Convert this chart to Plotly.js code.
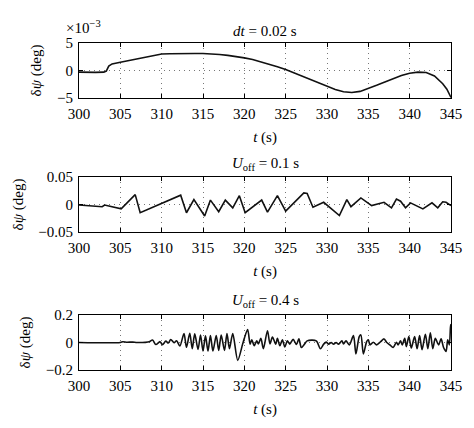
<!DOCTYPE html>
<html>
<head>
<meta charset="utf-8">
<script src="https://cdn.plot.ly/plotly-3.0.1.min.js"></script>
<style>html,body{margin:0;padding:0;background:#fff;}#chart{width:474px;height:428px;}</style>
</head>
<body>
<div id="chart"></div>
<script>
// ---- data ----
const panelTitles = ['<i>dt</i> = 0.02 s', '<i>U</i><sub>off</sub> = 0.1 s', '<i>U</i><sub>off</sub> = 0.4 s'];
const xTicks = [300, 305, 310, 315, 320, 325, 330, 335, 340, 345];

// top panel (deg)
const tTop = [300,301,302,303,303.3,303.6,304,305,306,307,308,309,310,311,312,313,314,315,316,317,318,319,320,321,322,323,324,325,326,327,328,329,330,331,332,333,334,335,336,337,338,339,340,341,342,343,344,344.5,345];
const psiTop = [-0.0003,-0.00035,-0.00035,-0.0003,-0.0001,0.0008,0.0012,0.0015,0.0018,0.0021,0.0024,0.0027,0.0030,0.00305,0.0031,0.0031,0.0031,0.0031,0.00305,0.0029,0.00275,0.00255,0.0023,0.0020,0.0016,0.00115,0.0007,0.0002,-0.0004,-0.0010,-0.00165,-0.0023,-0.0029,-0.00345,-0.00385,-0.0040,-0.0038,-0.0033,-0.0027,-0.0021,-0.0015,-0.0009,-0.0005,-0.0003,-0.00035,-0.0010,-0.0024,-0.0034,-0.0049];
const topTickVals = [-0.005, 0, 0.005];
const topTickText = ['\u22125', '0', '5'];

// middle panel (deg)
const tMid = [300,301,302,302.8,303.1,303.6,304.3,305.1,306.8,307.4,312.3,313.0,313.9,315.2,315.9,316.9,317.7,318.6,319.4,320.1,322.1,322.8,324.0,325.0,327.2,327.6,328.3,329.6,331.5,332.4,332.9,334.1,335.4,336.9,337.8,338.4,338.9,339.5,340.1,341.6,342.7,343.4,344.0,344.4,345];
const psiMid = [-0.001,-0.002,-0.003,-0.004,-0.001,-0.003,-0.005,-0.008,0.018,-0.015,0.017,-0.015,0.009,-0.021,0.008,-0.013,0.008,-0.006,0.016,-0.015,0.008,-0.014,0.016,-0.012,0.021,0.020,-0.005,0.004,-0.020,0.009,-0.004,0.012,-0.002,0.004,-0.006,0.010,0.006,-0.006,0.003,-0.008,0.003,-0.006,0.005,0.004,-0.002];

// bottom panel (deg)
const tBot = [300,305,305.3,305.8,306.5,307,308,308.5,308.9,309.3,309.8,310.1,310.5,310.8,311.1,311.5,311.8,312.2,312.7,313.0,313.4,313.7,314.0,314.4,314.7,315.0,315.3,315.6,315.9,316.2,316.6,316.9,317.2,317.6,317.9,318.2,318.6,319.2,319.8,320.0,320.4,320.7,320.9,321.2,321.5,321.7,322.0,322.3,322.8,323.1,323.4,323.8,324.0,324.3,324.6,324.9,325.2,325.5,325.9,326.3,326.6,326.9,327.3,327.6,328.7,329.2,329.6,329.9,330.2,330.5,330.8,331.1,331.4,331.8,332.0,332.3,332.7,333.2,333.5,333.9,334.1,334.4,334.8,335.0,335.2,335.6,336.0,336.5,336.9,337.2,337.6,338.0,338.4,338.6,338.9,339.1,339.4,339.6,339.9,340.2,340.6,340.9,341.2,341.5,341.9,342.2,342.5,342.8,343.1,343.5,343.8,344.1,344.4,344.6,344.8,344.95,345];
const psiBot = [0,0,0.005,0.002,0.003,0,0.001,0.005,0.018,-0.015,0.006,-0.016,0.010,-0.004,0.022,-0.002,0.013,-0.026,0.065,-0.035,0.066,-0.045,0.063,-0.050,0.055,-0.062,0.048,-0.062,0.050,-0.062,0.050,-0.058,0.055,-0.058,0.065,-0.045,0.065,-0.130,-0.010,0.030,0.095,-0.012,0.020,-0.024,0.012,-0.010,0.030,-0.045,0.086,-0.010,0.040,-0.012,0.030,-0.024,0.020,-0.033,0.012,-0.012,0.024,-0.015,0.026,-0.036,-0.010,0.012,0.012,-0.045,-0.012,0.003,-0.012,0,-0.012,0,-0.012,0.012,-0.010,0.012,-0.017,0.050,-0.083,0.043,0.055,-0.083,0.007,0.020,-0.017,0.002,-0.017,0.007,0.026,0.002,-0.017,-0.036,0.002,-0.017,0.012,-0.017,0.030,-0.030,0.043,-0.040,0.043,-0.045,0.050,-0.052,0.060,-0.045,0.070,-0.045,0.030,-0.017,0.026,-0.036,-0.065,0.020,-0.017,0.130,0.100];

// ---- chart ----
const FONT = 'Liberation Serif, Times New Roman, serif';
const FS = 15;
const lineStyle = {color: '#111', width: 1.6};

const traces = [
  {x: tTop, y: psiTop, xaxis: 'x', yaxis: 'y', mode: 'lines', line: lineStyle, hoverinfo: 'skip'},
  {x: tMid, y: psiMid, xaxis: 'x2', yaxis: 'y2', mode: 'lines', line: lineStyle, hoverinfo: 'skip'},
  {x: tBot, y: psiBot, xaxis: 'x3', yaxis: 'y3', mode: 'lines', line: Object.assign({shape: 'spline', smoothing: 0.8}, lineStyle), hoverinfo: 'skip'}
];

function xAx(anchor) {
  return {
    domain: [79/474, 451/474], anchor: anchor, range: [300, 345],
    tickvals: xTicks, ticks: 'inside', ticklen: 4, tickcolor: '#000',
    ticklabelstandoff: 2,
    showline: true, mirror: 'ticks', linecolor: '#000', linewidth: 1,
    showgrid: true, gridcolor: '#777', griddash: '1px,4px', gridwidth: 1, zeroline: false,
    tickfont: {family: FONT, size: FS, color: '#000'},
    title: {text: '<i>t</i> (s)', font: {family: FONT, size: FS, color: '#000'}, standoff: 10},
    fixedrange: true
  };
}
function yAx(anchor, dom, range, extra) {
  return Object.assign({
    domain: dom, anchor: anchor, range: range,
    ticks: 'inside', ticklen: 4, tickcolor: '#000',
    ticklabelstandoff: 2,
    showline: true, mirror: 'ticks', linecolor: '#000', linewidth: 1,
    showgrid: true, gridcolor: '#777', griddash: '1px,4px', gridwidth: 1, zeroline: false,
    tickfont: {family: FONT, size: FS, color: '#000'},
    title: {text: '\u03b4<i>\u03c8</i> (deg)', font: {family: FONT, size: FS, color: '#000'}, standoff: 11},
    fixedrange: true
  }, extra);
}

const layout = {
  width: 474, height: 428,
  margin: {l: 0, r: 0, t: 0, b: 0},
  paper_bgcolor: '#fff', plot_bgcolor: '#fff',
  showlegend: false,
  font: {family: FONT, size: FS, color: '#000'},
  xaxis: xAx('y'),
  yaxis: yAx('x', [1-98/428, 1-43/428], [-0.005, 0.005], {tickvals: topTickVals, ticktext: topTickText}),
  xaxis2: xAx('y2'),
  yaxis2: yAx('x2', [1-232/428, 1-177/428], [-0.05, 0.05], {tickvals: [-0.05, 0, 0.05]}),
  xaxis3: xAx('y3'),
  yaxis3: yAx('x3', [1-370/428, 1-315/428], [-0.2, 0.2], {tickvals: [-0.2, 0, 0.2]}),
  annotations: [
    {text: panelTitles[0], xref: 'paper', yref: 'paper', x: 265/474, y: 1-31/428, xanchor: 'center', yanchor: 'middle', showarrow: false, font: {family: FONT, size: FS}},
    {text: panelTitles[1], xref: 'paper', yref: 'paper', x: 265/474, y: 1-164/428, xanchor: 'center', yanchor: 'middle', showarrow: false, font: {family: FONT, size: FS}},
    {text: panelTitles[2], xref: 'paper', yref: 'paper', x: 265/474, y: 1-301/428, xanchor: 'center', yanchor: 'middle', showarrow: false, font: {family: FONT, size: FS}},
    {text: '\u00d710<sup>\u22123</sup>', xref: 'paper', yref: 'paper', x: 64/474, y: 1-27/428, xanchor: 'left', yanchor: 'middle', showarrow: false, font: {family: FONT, size: FS}}
  ]
};

Plotly.newPlot('chart', traces, layout, {staticPlot: true, displayModeBar: false});
</script>
</body>
</html>
